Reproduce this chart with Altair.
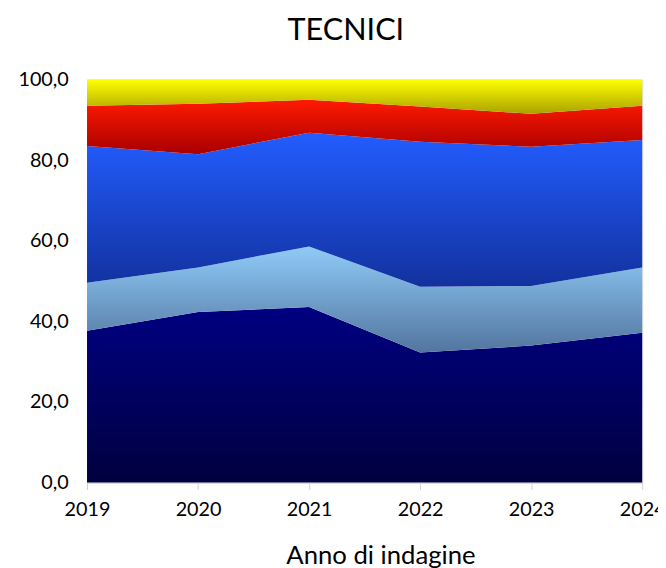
import altair as alt
import pandas as pd

years = [2019, 2020, 2021, 2022, 2023, 2024]
series_names = ["Serie 1", "Serie 2", "Serie 3", "Serie 4", "Serie 5"]
s1 = [37.7, 42.3, 43.6, 32.3, 34.0, 37.2]
s2 = [11.9, 11.1, 15.0, 16.3, 14.8, 16.2]
s3 = [33.9, 28.1, 28.2, 36.0, 34.5, 31.6]
s4 = [10.0, 12.5, 8.2, 8.7, 8.2, 8.5]
s5 = [6.5, 6.0, 5.0, 6.7, 8.5, 6.5]

gradients = [
    ("#000082", "#00003f"),
    ("#8fcbf7", "#52759f"),
    ("#235dff", "#12319e"),
    ("#ff1a00", "#a80000"),
    ("#ffff00", "#aaa200"),
]

rows = []
base = [0.0] * len(years)
for name, vals in zip(series_names, [s1, s2, s3, s4, s5]):
    for i, y in enumerate(years):
        rows.append({"year": y, "series": name, "lo": base[i], "hi": base[i] + vals[i]})
    base = [b + v for b, v in zip(base, vals)]
df = pd.DataFrame(rows)

FONT = "Lato"
x_enc = alt.X("year:Q", title="Anno di indagine",
              scale=alt.Scale(domain=[2019, 2024], nice=False, zero=False),
              axis=alt.Axis(values=years, format="d", labelFontSize=20, titleFontSize=26,
                            titleFontWeight="normal", labelFont=FONT, titleFont=FONT,
                            tickColor="#d0d0d0", domainColor="#d0d0d0", tickSize=7,
                            labelPadding=10, labelFlush=False, grid=False,
                            labelColor="#000", titleColor="#000",
                            titleX=297, titleY=82, titleBaseline="alphabetic",
                            titleAnchor="start", titleAlign="center"))
y_enc = alt.Y("lo:Q", title=None,
              scale=alt.Scale(domain=[0, 100], nice=False),
              axis=alt.Axis(values=[0, 20, 40, 60, 80, 100],
                            labelExpr="replace(format(datum.value, '.1f'), '.', ',')",
                            labelFontSize=20, labelFont=FONT, labelColor="#000",
                            ticks=False, domain=False, grid=False, labelPadding=19))

layers = []
for name, (top, bottom) in zip(series_names, gradients):
    grad = alt.Gradient(gradient="linear", x1=0, y1=0, x2=0, y2=1,
                        stops=[alt.GradientStop(color=top, offset=0),
                               alt.GradientStop(color=bottom, offset=1)])
    layers.append(
        alt.Chart(df).transform_filter(alt.datum.series == name)
        .mark_area(color=grad, interpolate="linear")
        .encode(x=x_enc, y=y_enc, y2="hi:Q")
    )

chart = alt.layer(*layers).properties(
    width=562, height=408,
    title=alt.TitleParams("TECNICI", font=FONT, fontSize=31, fontWeight="normal",
                          anchor="middle", dx=-19, offset=23, baseline="top", color="#000"),
    autosize=alt.AutoSizeParams(type="none"),
    padding={"left": 80, "top": 69, "right": 16, "bottom": 83},
).configure_view(stroke="#d9d9d9", strokeWidth=1)

chart.save("out.html", embed_options={"renderer": "svg", "actions": False})
